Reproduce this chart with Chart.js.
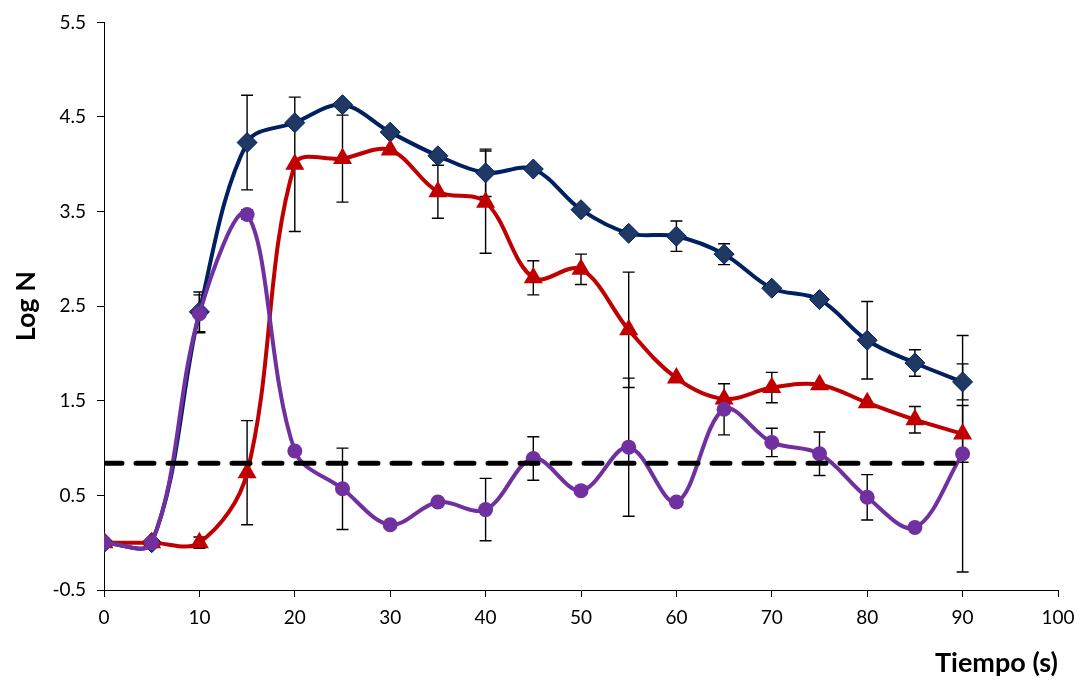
<!DOCTYPE html>
<html>
<head>
<meta charset="utf-8">
<script src="https://cdn.jsdelivr.net/npm/chart.js@4/dist/chart.umd.min.js"></script>
<style>
  html, body { margin: 0; padding: 0; background: #ffffff; }
  #wrap { width: 1084px; height: 684px; }
</style>
</head>
<body>
<div id="wrap"><canvas id="chart" width="1084" height="684"></canvas></div>
<script>
// Sampling times (s)
const tiempo = [0, 5, 10, 15, 20, 25, 30, 35, 40, 45, 50, 55, 60, 65, 70, 75, 80, 85, 90];

// Log N per series and their standard deviations
const serieA    = [0, 0, 2.44, 4.23, 4.44, 4.63, 4.34, 4.09, 3.91, 3.95, 3.52, 3.27, 3.24, 3.05, 2.69, 2.57, 2.14, 1.90, 1.70];
const serieAErr = [0, 0, 0.21, 0.50, 0, 0, 0, 0, 0.25, 0, 0, 0, 0.16, 0.11, 0, 0, 0.41, 0.14, 0.19];

const serieB    = [0, 0, 0, 0.74, 4.00, 4.06, 4.15, 3.71, 3.60, 2.80, 2.89, 2.25, 1.74, 1.52, 1.64, 1.67, 1.48, 1.30, 1.15];
const serieBErr = [0, 0, 0.06, 0.55, 0.71, 0.46, 0, 0.28, 0.54, 0.18, 0.16, 0.61, 0, 0, 0.16, 0, 0, 0.14, 0.30];

const serieC    = [0, 0, 2.42, 3.47, 0.97, 0.57, 0.19, 0.43, 0.35, 0.89, 0.55, 1.01, 0.43, 1.41, 1.06, 0.94, 0.48, 0.16, 0.94];
const serieCErr = [0, 0, 0.20, 0.05, 0, 0.43, 0, 0, 0.33, 0.23, 0, 0.73, 0, 0.27, 0.15, 0.23, 0.24, 0, 1.25];

// Detection limit (horizontal dashed line)
const limite = 0.84;
const limiteX = [0, 90];

// Axis ticks
const yTicks = [-0.5, 0.5, 1.5, 2.5, 3.5, 4.5, 5.5];
const xTicks = [0, 10, 20, 30, 40, 50, 60, 70, 80, 90, 100];

const toPoints = (ys) => tiempo.map((t, i) => ({ x: t, y: ys[i] }));

// Draws vertical error bars with caps under the series lines and markers
const errorBars = {
  id: 'errorBars',
  beforeDatasetsDraw(chart) {
    const { ctx, scales: { x, y } } = chart;
    ctx.save();
    ctx.strokeStyle = '#000000';
    ctx.lineWidth = 1.4;
    chart.data.datasets.forEach((ds) => {
      if (!ds.errors) return;
      ds.data.forEach((p, i) => {
        const e = ds.errors[i];
        if (!e) return;
        const px = x.getPixelForValue(p.x);
        const yt = y.getPixelForValue(p.y + e);
        const yb = y.getPixelForValue(p.y - e);
        const cap = 6;
        ctx.beginPath();
        ctx.moveTo(px, yt); ctx.lineTo(px, yb);
        ctx.moveTo(px - cap, yt); ctx.lineTo(px + cap, yt);
        ctx.moveTo(px - cap, yb); ctx.lineTo(px + cap, yb);
        ctx.stroke();
      });
    });
    ctx.restore();
  }
};

const tickFont = { family: 'Lato', size: 19 };
const titleFont = { family: 'Lato', size: 27, weight: 'bold' };

new Chart(document.getElementById('chart'), {
  type: 'line',
  data: {
    datasets: [
      {
        label: 'Límite',
        data: limiteX.map(v => ({ x: v, y: limite })),
        borderColor: '#000000',
        borderWidth: 5,
        borderDash: [18, 14],
        borderCapStyle: 'round',
        pointRadius: 0,
        tension: 0
      },
      {
        label: 'C',
        data: toPoints(serieC),
        errors: serieCErr,
        borderColor: '#7030A0',
        backgroundColor: '#7030A0',
        borderWidth: 4,
        pointStyle: 'circle',
        pointRadius: 7.5,
        pointBorderWidth: 0,
        tension: 0.35
      },
      {
        label: 'B',
        data: toPoints(serieB),
        errors: serieBErr,
        borderColor: '#C00000',
        backgroundColor: '#C00000',
        borderWidth: 4,
        pointStyle: 'triangle',
        pointRadius: 11,
        pointBorderWidth: 0,
        tension: 0.35
      },
      {
        label: 'A',
        data: toPoints(serieA),
        errors: serieAErr,
        borderColor: '#002060',
        backgroundColor: '#1F3864',
        borderWidth: 4,
        pointStyle: 'rectRot',
        pointRadius: 10,
        pointBorderWidth: 1,
        pointBorderColor: '#002060',
        tension: 0.35
      }
    ]
  },
  options: {
    responsive: false,
    animation: false,
    layout: { padding: { left: 0, right: 26, top: 20, bottom: 0 } },
    plugins: {
      legend: { display: false },
      tooltip: { enabled: false }
    },
    scales: {
      x: {
        type: 'linear',
        min: 0,
        max: 100,
        afterBuildTicks: (s) => { s.ticks = xTicks.map(v => ({ value: v })); },
        afterFit: (s) => { s.height = 94; },
        ticks: { font: tickFont, color: '#000000', padding: 9, maxRotation: 0 },
        grid: { drawOnChartArea: false, drawTicks: true, tickLength: 7, color: '#000000' },
        border: { display: true, color: '#000000', width: 1 },
        title: {
          display: true, text: 'Tiempo (s)', align: 'end',
          font: titleFont, color: '#000000', padding: { top: 0, bottom: 5 }
        }
      },
      y: {
        type: 'linear',
        min: -0.5,
        max: 5.5,
        afterBuildTicks: (s) => { s.ticks = yTicks.map(v => ({ value: v })); },
        afterFit: (s) => { s.width = 104; },
        ticks: {
          font: tickFont, color: '#000000', padding: 11,
          callback: (v) => Number(v).toFixed(1)
        },
        grid: { drawOnChartArea: false, drawTicks: true, tickLength: 7, color: '#000000' },
        border: { display: true, color: '#000000', width: 1 },
        title: {
          display: true, text: 'Log N',
          font: titleFont, color: '#000000', padding: { top: 10, bottom: 0 }
        }
      }
    }
  },
  plugins: [errorBars]
});
</script>
</body>
</html>
